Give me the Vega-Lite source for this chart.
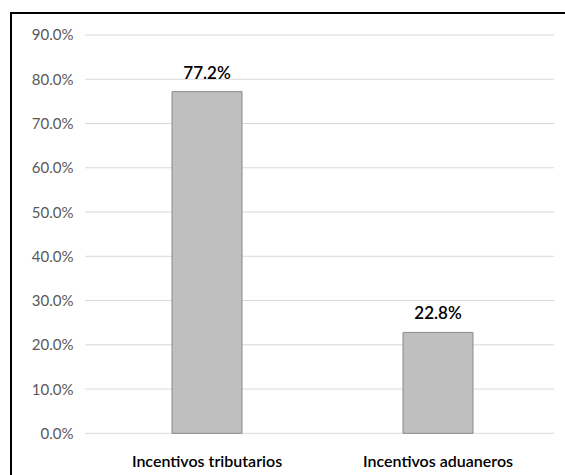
{
  "$schema": "https://vega.github.io/schema/vega-lite/v6.json",
  "autosize": {"type": "none"},
  "padding": {"left": 11, "top": 13, "right": 0, "bottom": 0},
  "width": 554,
  "height": 462,
  "background": "#ffffff",
  "config": {
    "view": {"stroke": "#000000", "strokeWidth": 2, "strokeDash": [554, 1016, 462]},
    "font": "Lato"
  },
  "datasets": {
    "incentivos": [
      {"categoria": "Incentivos tributarios", "porcentaje": 0.772},
      {"categoria": "Incentivos aduaneros", "porcentaje": 0.228}
    ],
    "rejilla": [
      {"nivel": 0}, {"nivel": 0.1}, {"nivel": 0.2}, {"nivel": 0.3}, {"nivel": 0.4},
      {"nivel": 0.5}, {"nivel": 0.6}, {"nivel": 0.7}, {"nivel": 0.8}, {"nivel": 0.9}
    ]
  },
  "layer": [
    {
      "data": {"name": "rejilla"},
      "mark": {"type": "rule", "color": "#d9d9d9", "strokeWidth": 1},
      "encoding": {
        "y": {
          "field": "nivel",
          "type": "quantitative",
          "scale": {"domain": [-0.0942, 0.9497], "nice": false, "zero": false},
          "axis": {
            "title": null,
            "values": [0, 0.1, 0.2, 0.3, 0.4, 0.5, 0.6, 0.7, 0.8, 0.9],
            "format": ".1%",
            "offset": -62,
            "domain": false,
            "ticks": false,
            "grid": false,
            "labelPadding": 0,
            "labelFont": "Lato",
            "labelFontSize": 15,
            "labelColor": "#595959"
          }
        },
        "x": {"datum": 0.1336, "type": "quantitative", "scale": {"domain": [0, 1], "nice": false, "zero": false}, "axis": null},
        "x2": {"datum": 0.9801}
      }
    },
    {
      "data": {"name": "incentivos"},
      "encoding": {
        "x": {
          "field": "categoria",
          "type": "nominal",
          "sort": null,
          "scale": {"paddingInner": 0.697, "paddingOuter": 0.5476, "align": 0.6364},
          "axis": {
            "title": null,
            "orient": "bottom",
            "offset": -42,
            "domain": false,
            "ticks": false,
            "labelAngle": 0,
            "labelPadding": 20,
            "labelFont": "Lato",
            "labelFontSize": 16,
            "labelFontWeight": 600,
            "labelColor": "#000000"
          }
        },
        "y": {"field": "porcentaje", "type": "quantitative"}
      },
      "layer": [
        {
          "mark": {"type": "bar", "fill": "#bfbfbf", "stroke": "#8a8a8a", "strokeWidth": 1},
          "encoding": {"y2": {"datum": 0}}
        },
        {
          "mark": {"type": "text", "baseline": "alphabetic", "dy": -13, "fontSize": 17, "fontWeight": 600, "color": "#000000"},
          "encoding": {"text": {"field": "porcentaje", "type": "quantitative", "format": ".1%"}}
        }
      ]
    }
  ],
  "resolve": {"scale": {"x": "independent"}, "axis": {"x": "independent"}}
}
